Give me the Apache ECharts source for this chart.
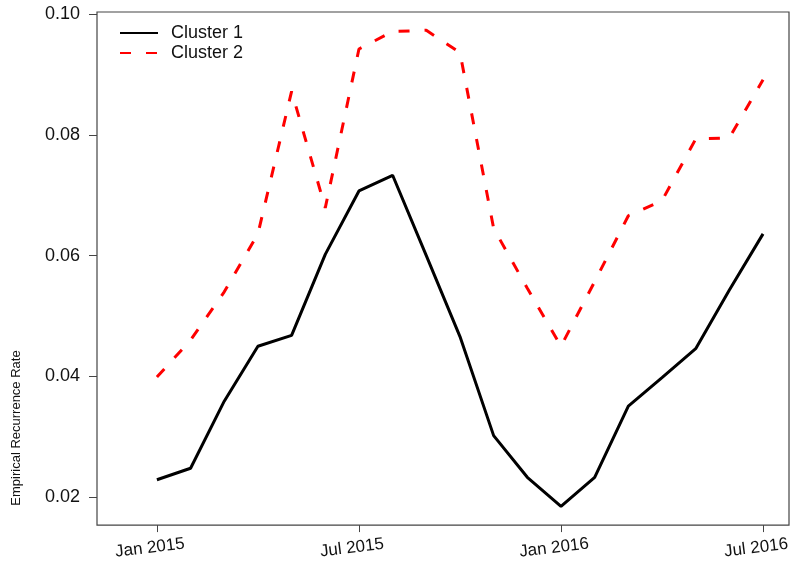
<!DOCTYPE html>
<html>
<head>
<meta charset="utf-8">
<script src="https://cdn.jsdelivr.net/npm/echarts@6/dist/echarts.min.js"></script>
<style>
  html, body { margin: 0; padding: 0; background: #fff; }
  #chart { width: 792px; height: 561px; }
</style>
</head>
<body>
<div id="chart"></div>
<script>
// Monthly empirical recurrence rate, Jan 2015 – Jul 2016
const months = ['2015-01','2015-02','2015-03','2015-04','2015-05','2015-06','2015-07','2015-08','2015-09','2015-10',
                '2015-11','2015-12','2016-01','2016-02','2016-03','2016-04','2016-05','2016-06','2016-07'];
const cluster1 = [0.0229, 0.0248, 0.0359, 0.0450, 0.0468, 0.0602, 0.0707, 0.0733, 0.0600, 0.0466,
                  0.0302, 0.0233, 0.0185, 0.0233, 0.0351, 0.0398, 0.0446, 0.0543, 0.0636];
const cluster2 = [0.0399, 0.0460, 0.0540, 0.0636, 0.0872, 0.0679, 0.0942, 0.0971, 0.0973, 0.0936,
                  0.0645, 0.0546, 0.0450, 0.0557, 0.0666, 0.0691, 0.0793, 0.0795, 0.0891];
const xTickIndex = [0, 6, 12, 18];
const xTickLabels = ['Jan 2015', 'Jul 2015', 'Jan 2016', 'Jul 2016'];
const yTicks = [0.02, 0.04, 0.06, 0.08, 0.10];

const toPairs = vals => vals.map((v, i) => [i, v]);
const font = '"Liberation Sans", Arial, sans-serif';

const chart = echarts.init(document.getElementById('chart'), null, { renderer: 'canvas' });
chart.setOption({
  animation: false,
  backgroundColor: '#ffffff',
  grid: {
    left: 97, right: 2, top: 12, bottom: 33,
    show: true, borderColor: '#444', borderWidth: 1.2, backgroundColor: 'transparent'
  },
  legend: {
    orient: 'vertical',
    left: 114, top: 19,
    itemWidth: 38, itemHeight: 14, itemGap: 2,
    itemStyle: { opacity: 0 },
    textStyle: { fontFamily: font, fontSize: 18, color: '#111', padding: [0, 0, 0, 8] },
    data: ['Cluster 1', 'Cluster 2']
  },
  xAxis: {
    type: 'value',
    min: -1.779, max: 18.771,
    axisLine: { show: false, onZero: false },
    splitLine: { show: false },
    axisTick: { show: true, length: 7, customValues: xTickIndex, lineStyle: { color: '#444', width: 1 } },
    axisLabel: {
      customValues: xTickIndex,
      formatter: v => xTickLabels[xTickIndex.indexOf(Math.round(v))] || '',
      rotate: 7, align: 'center', verticalAlign: 'middle', margin: 22,
      padding: [0, 14, 0, 0],
      fontFamily: font, fontSize: 17, color: '#111'
    }
  },
  yAxis: {
    type: 'value',
    min: 0.01539, max: 0.10033,
    axisLine: { show: false, onZero: false },
    splitLine: { show: false },
    axisTick: { show: true, length: 8, customValues: yTicks, lineStyle: { color: '#444', width: 1 } },
    axisLabel: {
      customValues: yTicks,
      formatter: v => v.toFixed(2),
      margin: 17,
      fontFamily: font, fontSize: 18, color: '#111'
    }
  },
  graphic: [{
    type: 'text',
    x: 16, y: 428,
    rotation: Math.PI / 2,
    style: {
      text: 'Empirical Recurrence Rate',
      fontFamily: font, fontSize: 13, fill: '#111',
      align: 'center', verticalAlign: 'middle'
    }
  }],
  series: [
    {
      name: 'Cluster 1', type: 'line',
      data: toPairs(cluster1),
      symbol: 'none',
      lineStyle: { color: '#000000', width: 3 },
      itemStyle: { color: '#000000' }
    },
    {
      name: 'Cluster 2', type: 'line',
      data: toPairs(cluster2),
      symbol: 'none',
      lineStyle: { color: '#ff0000', width: 3, type: [11, 15] },
      itemStyle: { color: '#ff0000' }
    }
  ]
});
</script>
</body>
</html>
